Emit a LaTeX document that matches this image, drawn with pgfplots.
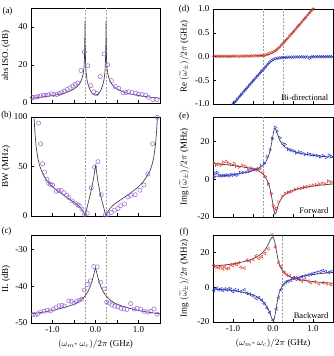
\documentclass[border=0pt]{standalone}
\usepackage{fontspec}
\setmainfont{Liberation Serif}
\usepackage{pgfplots}
\pgfplotsset{compat=1.18}
\definecolor{cPurple}{HTML}{9B5FD6}
\definecolor{cRed}{HTML}{E0342A}
\definecolor{cBlue}{HTML}{2A3CD8}
\definecolor{cCurve}{HTML}{3A3A3A}

\pgfplotsset{
  panel/.style={
    scale only axis,
    xmin=-1.5, xmax=1.5,
    axis line style={line width=0.5pt},
    tick align=inside, xtick pos=bottom, ytick pos=left,
    major tick length=3pt,
    tick style={line width=0.4pt, black},
    xtick={-1,-0.5,0,0.5,1}, xticklabels={},
    tick label style={font=\fontsize{9}{10}\selectfont},
    label style={font=\fontsize{9}{10}\selectfont},
  },
  leftcol/.style={panel, width=129pt,
    ylabel style={at={(axis description cs:-0.135,0.5)}, anchor=south}},
  rightcol/.style={panel, width=120pt,
    ylabel style={at={(axis description cs:-0.172,0.5)}, anchor=south}},
  meas/.style={only marks, mark=o, mark size=2.1pt, draw=cPurple, line width=0.5pt},
  fit/.style={cCurve, line width=0.65pt, no marks},
  ep/.style={gray!75, dashed, line width=0.5pt, no marks, dash pattern=on 2pt off 1.5pt},
}
\tikzset{tagnote/.style={font=\fontsize{8.5}{9}\selectfont, anchor=south east}}

\begin{document}
\begin{tikzpicture}

% (a) isolation
\begin{axis}[leftcol, at={(31pt,253pt)}, anchor=south west, height=95pt,
  ymin=0, ymax=50, ytick={0,20,40}, yticklabels={0,20,40},
  ylabel={abs ISO. (dB)}]
\addplot[ep] coordinates {(-0.245,0) (-0.245,50)};
\addplot[ep] coordinates {(0.245,0) (0.245,50)};
\addplot[meas] coordinates {
(-1.465,2.9) (-1.40,3.0) (-1.34,3.4) (-1.28,3.75) (-1.21,4.1) (-1.15,4.1)
(-1.09,4.3) (-1.03,4.8) (-0.97,4.5) (-0.90,4.5) (-0.84,5.0) (-0.78,5.5)
(-0.72,6.2) (-0.66,7.1) (-0.59,8.0) (-0.53,8.9) (-0.47,9.8) (-0.41,10.5)
(-0.34,17.1) (-0.26,26.9) (-0.18,19.6) (-0.11,9.1) (-0.04,5.9) (0.03,5.0)
(0.11,13.9) (0.20,25.8) (0.28,20.1) (0.37,11.8) (0.46,8.6) (0.54,7.7)
(0.64,5.4) (0.71,5.5) (0.77,5.9) (0.85,5.5) (0.93,5.2) (1.00,4.6)
(1.08,4.5) (1.17,4.1) (1.23,3.0) (1.33,1.8) (1.43,1.8)};
\addplot[fit] coordinates {
(-1.5,2.5) (-1.3,3.0) (-1.1,3.6) (-0.9,4.3) (-0.75,5.0) (-0.6,6.2) (-0.5,7.4)
(-0.42,8.8) (-0.36,10.5) (-0.32,12.5) (-0.29,15) (-0.27,18) (-0.258,23)
(-0.25,30) (-0.245,43) (-0.24,30) (-0.232,22) (-0.22,16.5) (-0.2,12.5)
(-0.17,9.5) (-0.13,7.0) (-0.09,5.4) (-0.05,4.5) (0,4.1) (0.05,4.5) (0.09,5.4)
(0.13,7.0) (0.17,9.5) (0.2,12.5) (0.22,16.5) (0.232,22) (0.24,30) (0.245,43)
(0.25,30) (0.258,23) (0.27,18) (0.29,15) (0.32,12.5) (0.36,10.5) (0.42,8.8)
(0.5,7.4) (0.6,6.2) (0.75,5.0) (0.9,4.3) (1.1,3.6) (1.3,3.0) (1.5,2.5)};
\end{axis}

% (b) bandwidth
\begin{axis}[leftcol, at={(31pt,140pt)}, anchor=south west, height=99pt,
  ymin=0, ymax=100, ytick={0,50,100}, yticklabels={0,50,100},
  ylabel={BW (MHz)}]
\addplot[ep] coordinates {(-0.245,0) (-0.245,100)};
\addplot[ep] coordinates {(0.245,0) (0.245,100)};
\addplot[meas] coordinates {
(-1.323,93.8) (-1.277,72.9) (-1.230,52.8) (-1.184,44.4) (-1.129,37.2)
(-1.090,33.0) (-1.044,31.9) (-0.998,31.3) (-0.912,25.0) (-0.858,25.7)
(-0.796,26.0) (-0.734,23.6) (-0.672,20.8) (-0.626,18.8) (-0.548,15.3)
(-0.470,13.2) (-0.408,11.1) (-0.378,10.4) (-0.316,6.9) (-0.254,1.7)
(-0.192,2.8) (-0.098,28.5) (-0.021,49.3) (0.057,54.9) (0.134,21.5)
(0.227,1.0) (0.289,1.7) (0.367,3.5) (0.444,5.9) (0.522,7.6) (0.584,10.4)
(0.677,12.2) (0.754,19.1) (0.816,20.8) (0.925,21.5) (1.033,26.0)
(1.126,31.3) (1.219,42.4) (1.327,72.9) (1.436,99.7)};
\addplot[fit] coordinates {
(-1.43,100) (-1.41,85) (-1.38,70) (-1.34,58) (-1.3,51) (-1.25,45) (-1.2,40.5)
(-1.1,34) (-1.0,29.5) (-0.9,26) (-0.8,22.8) (-0.7,19.8) (-0.6,16.8)
(-0.5,13.8) (-0.4,10.5) (-0.34,8) (-0.3,5.5) (-0.27,3) (-0.245,0.3)
(-0.23,2.5) (-0.2,8) (-0.16,15) (-0.12,22) (-0.08,30) (-0.04,39) (-0.01,48)
(0.005,51) (0.02,46) (0.06,34) (0.1,25) (0.14,17) (0.18,10.5) (0.215,4.5)
(0.245,0.3) (0.26,1.5) (0.29,4.5) (0.33,7.2) (0.4,10.5) (0.5,13.8) (0.6,16.8)
(0.7,19.8) (0.8,22.8) (0.9,26) (1.0,29.5) (1.1,34) (1.2,40.5) (1.26,45)
(1.31,51) (1.35,58) (1.39,70) (1.42,85) (1.44,100)};
\end{axis}

% (c) insertion loss
\begin{axis}[leftcol, at={(31pt,33pt)}, anchor=south west, height=88pt,
  ymin=-50, ymax=-26, ytick={-50,-40,-30}, yticklabels={-50,-40,-30},
  xticklabels={-1.0,,0.0,,1.0},
  ylabel={IL (dB)},
  xlabel={$(\omega_{m}$- $\omega_{c})/2\pi$ (GHz)}]
\addplot[ep] coordinates {(-0.245,-50) (-0.245,-26)};
\addplot[ep] coordinates {(0.245,-50) (0.245,-26)};
\addplot[meas] coordinates {
(-1.45,-47.6) (-1.40,-47.8) (-1.35,-47.5) (-1.28,-47.0) (-1.20,-46.8)
(-1.12,-46.5) (-1.05,-46.7) (-0.98,-46.2) (-0.92,-45.8) (-0.85,-45.3)
(-0.78,-45.2) (-0.72,-45.4) (-0.62,-44.0) (-0.56,-44.1) (-0.50,-44.6)
(-0.44,-44.1) (-0.38,-43.8) (-0.32,-43.5) (-0.26,-41.0) (-0.19,-39.5)
(-0.12,-38.5) (-0.04,-34.6) (0.04,-34.7) (0.12,-38.9) (0.20,-40.7)
(0.26,-44.3) (0.32,-44.6) (0.38,-45.0) (0.45,-45.4) (0.52,-45.6)
(0.59,-46.0) (0.66,-46.2) (0.73,-46.3) (0.82,-44.7) (0.90,-46.2)
(0.97,-46.0) (1.05,-46.2) (1.13,-46.8) (1.21,-47.0) (1.29,-46.8)
(1.36,-46.2) (1.43,-47.6)};
\addplot[fit] coordinates {
(-1.5,-47.5) (-1.25,-47.1) (-1.0,-46.6) (-0.8,-46.0) (-0.6,-45.3)
(-0.45,-44.6) (-0.35,-43.8) (-0.25,-42.7) (-0.18,-41.5) (-0.12,-40.0)
(-0.08,-38.6) (-0.04,-36.8) (-0.015,-35.6) (0,-35.1) (0.015,-35.6)
(0.04,-36.8) (0.08,-38.6) (0.12,-40.0) (0.18,-41.5) (0.25,-42.7)
(0.35,-43.8) (0.45,-44.6) (0.6,-45.3) (0.8,-46.0) (1.0,-46.6) (1.25,-47.1)
(1.5,-47.5)};
\end{axis}

% (d) real parts
\begin{axis}[rightcol, at={(213pt,252pt)}, anchor=south west, height=95pt,
  ymin=-1, ymax=1, ytick={-1,-0.5,0,0.5,1},
  yticklabels={-1.0,-0.5,0.0,0.5,1.0},
  ylabel={Re $(\widetilde{\omega}_{\pm})/2\pi$ (GHz)}]
\addplot[ep] coordinates {(-0.245,-1) (-0.245,1)};
\addplot[ep] coordinates {(0.245,-1) (0.245,1)};
\addplot[only marks, mark=o, mark size=1.4pt, draw=cRed, line width=0.4pt] coordinates {
(-1.48,0.005) (-1.43,0.003) (-1.38,0.006) (-1.33,0.004) (-1.28,0.008)
(-1.23,0.005) (-1.18,0.006) (-1.13,0.004) (-1.08,0.007) (-1.03,0.006)
(-0.98,0.008) (-0.93,0.005) (-0.88,0.010) (-0.83,0.007) (-0.78,0.009)
(-0.73,0.006) (-0.68,0.012) (-0.63,0.010) (-0.58,0.009) (-0.53,0.014)
(-0.48,0.011) (-0.43,0.016) (-0.38,0.013) (-0.33,0.018) (-0.28,0.020)
(-0.23,0.015) (-0.18,0.035) (-0.13,0.050) (-0.08,0.075) (-0.03,0.085)
(0.02,0.10) (0.07,0.13) (0.12,0.165) (0.17,0.20) (0.22,0.245) (0.27,0.29)
(0.32,0.34) (0.37,0.385) (0.42,0.435) (0.47,0.48) (0.52,0.53) (0.57,0.58)
(0.62,0.63) (0.67,0.675) (0.72,0.725) (0.77,0.775) (0.82,0.825)
(0.87,0.875) (0.92,0.925) (0.97,0.975) (1.01,1.0)};
\addplot[only marks, mark=o, mark size=1.4pt, draw=cBlue, line width=0.4pt] coordinates {
(-0.99,-0.99) (-0.94,-0.945) (-0.89,-0.895) (-0.84,-0.845) (-0.79,-0.795)
(-0.74,-0.745) (-0.69,-0.70) (-0.64,-0.65) (-0.59,-0.60) (-0.54,-0.555)
(-0.49,-0.505) (-0.44,-0.455) (-0.39,-0.41) (-0.34,-0.365) (-0.29,-0.31)
(-0.24,-0.27) (-0.19,-0.22) (-0.14,-0.17) (-0.09,-0.12) (-0.04,-0.085)
(0.01,-0.06) (0.06,-0.045) (0.11,-0.035) (0.16,-0.03) (0.21,-0.025)
(0.26,-0.02) (0.31,-0.02) (0.36,-0.015) (0.41,-0.012) (0.46,-0.015)
(0.51,-0.01) (0.56,-0.012) (0.61,-0.008) (0.66,-0.01) (0.71,-0.006)
(0.76,-0.01) (0.81,-0.01) (0.86,-0.008) (0.91,-0.04) (0.96,-0.01)
(1.01,-0.005) (1.06,-0.008) (1.11,-0.004) (1.16,-0.007) (1.21,-0.005)
(1.26,-0.004) (1.31,-0.006) (1.36,-0.003) (1.41,-0.005) (1.46,-0.004)};
\addplot[fit] coordinates {
(-1.5,0.0043) (-1.2,0.0053) (-1.0,0.0064) (-0.8,0.0079) (-0.6,0.0105)
(-0.5,0.0125) (-0.4,0.0154) (-0.3,0.0200) (-0.25,0.0234) (-0.2,0.0281)
(-0.15,0.0347) (-0.1,0.0443) (-0.05,0.0588) (0,0.08) (0.05,0.1088)
(0.1,0.1443) (0.15,0.1847) (0.2,0.2281) (0.25,0.2734) (0.3,0.32)
(0.4,0.4154) (0.5,0.5125) (0.6,0.6105) (0.8,0.8079) (1.0,1.0064)
(1.05,1.0561)};
\addplot[fit] coordinates {
(-1.05,-1.0561) (-1.0,-1.0064) (-0.8,-0.8079) (-0.6,-0.6105) (-0.5,-0.5125)
(-0.4,-0.4154) (-0.3,-0.32) (-0.25,-0.2734) (-0.2,-0.2281) (-0.15,-0.1847)
(-0.1,-0.1443) (-0.05,-0.1088) (0,-0.08) (0.05,-0.0588) (0.1,-0.0443)
(0.15,-0.0347) (0.2,-0.0281) (0.25,-0.0234) (0.3,-0.02) (0.4,-0.0154)
(0.5,-0.0125) (0.6,-0.0105) (0.8,-0.0079) (1.0,-0.0064) (1.2,-0.0053)
(1.5,-0.0043)};
\node[tagnote] at (axis description cs:0.99,0.0) {Bi-directional};
\end{axis}

% (e) imaginary parts, forward
\begin{axis}[rightcol, at={(213pt,139pt)}, anchor=south west, height=100pt,
  ymin=-20, ymax=33, ytick={-20,0,20}, yticklabels={-20,0,20},
  ylabel={Img $(\widetilde{\omega}_{\pm})/2\pi$ (MHz)}]
\addplot[ep] coordinates {(-0.24,-20) (-0.24,33)};
\addplot[only marks, mark=triangle, mark size=1.7pt, mark options={rotate=-90},
  draw=cBlue, line width=0.4pt] coordinates {
(-1.48,1.0) (-1.44,3.0) (-1.40,3.5) (-1.35,2.0) (-1.30,1.8) (-1.25,1.9)
(-1.20,2.0) (-1.15,2.2) (-1.10,1.8) (-1.05,2.5) (-1.00,2.2) (-0.95,2.6)
(-0.90,2.2) (-0.82,3.5) (-0.75,3.6) (-0.68,3.8) (-0.60,4.2) (-0.52,5.0)
(-0.45,5.2) (-0.38,5.5) (-0.30,7.2) (-0.22,8.5) (-0.15,12.0) (-0.08,15.5)
(-0.02,21.5) (0.05,27.5) (0.10,25.5) (0.17,22.0) (0.24,19.0) (0.30,18.5)
(0.38,16.0) (0.45,15.5) (0.52,15.0) (0.58,14.0) (0.65,14.5) (0.72,14.0)
(0.80,13.2) (0.88,13.5) (0.95,13.0) (1.02,12.8) (1.10,12.5) (1.18,12.0)
(1.25,12.5) (1.32,11.5) (1.40,12.8) (1.46,12.0)};
\addplot[only marks, mark=triangle, mark size=1.7pt, mark options={rotate=-90},
  draw=cRed, line width=0.4pt] coordinates {
(-1.48,8.5) (-1.42,7.5) (-1.36,8.0) (-1.30,7.5) (-1.25,9.0) (-1.18,9.5)
(-1.12,8.5) (-1.05,7.8) (-0.98,8.5) (-0.92,7.0) (-0.85,6.5) (-0.78,7.5)
(-0.70,6.8) (-0.62,5.5) (-0.55,6.0) (-0.48,5.2) (-0.40,5.0) (-0.33,5.5)
(-0.26,3.5) (-0.20,1.5) (-0.12,-2.5) (-0.05,-7.5) (0.00,-14.0) (0.04,-16.0)
(0.08,-15.5) (0.14,-12.0) (0.22,-9.0) (0.30,-7.5) (0.38,-7.0) (0.46,-6.5)
(0.55,-5.5) (0.62,-5.0) (0.70,-4.8) (0.78,-4.2) (0.85,-4.0) (0.92,-3.5)
(1.00,-3.2) (1.08,-3.0) (1.15,-2.5) (1.22,-2.0) (1.30,-2.5) (1.38,-1.0)
(1.45,-1.5)};
\addplot[fit] coordinates {
(-1.5,1.5) (-1.2,2.0) (-1.0,2.5) (-0.8,3.2) (-0.6,4.0) (-0.5,4.6) (-0.4,5.4)
(-0.3,6.6) (-0.24,7.6) (-0.18,9.2) (-0.12,11.8) (-0.08,14.5) (-0.04,18.5)
(0.0,23.5) (0.03,26.5) (0.05,27.0) (0.08,26.0) (0.12,23.5) (0.16,21.0)
(0.22,18.8) (0.3,17.0) (0.4,15.6) (0.5,14.8) (0.7,13.6) (0.9,12.9)
(1.1,12.4) (1.3,12.0) (1.5,11.6)};
\addplot[fit] coordinates {
(-1.5,8.5) (-1.2,7.8) (-1.0,7.3) (-0.8,6.7) (-0.6,6.0) (-0.5,5.5) (-0.4,4.8)
(-0.3,3.6) (-0.24,2.5) (-0.18,0.8) (-0.12,-1.8) (-0.08,-4.5) (-0.04,-8.5)
(0.0,-13.5) (0.03,-17.0) (0.05,-18.5) (0.08,-17.5) (0.12,-14.5)
(0.16,-12.0) (0.22,-9.8) (0.3,-8.0) (0.4,-6.6) (0.5,-5.8) (0.7,-4.6)
(0.9,-3.9) (1.1,-3.3) (1.3,-2.9) (1.5,-2.5)};
\node[tagnote] at (axis description cs:0.99,0.0) {Forward};
\end{axis}

% (f) imaginary parts, backward
\begin{axis}[rightcol, at={(213pt,34pt)}, anchor=south west, height=87pt,
  ymin=-20, ymax=30, ytick={-20,0,20}, yticklabels={-20,0,20},
  xticklabels={-1.0,,0.0,,1.0},
  ylabel={Img $(\widetilde{\omega}_{\pm})/2\pi$ (MHz)},
  xlabel={$(\omega_{m}$- $\omega_{c})/2\pi$ (GHz)}]
\addplot[ep] coordinates {(0.24,-20) (0.24,30)};
\addplot[only marks, mark=triangle, mark size=1.7pt, mark options={rotate=90},
  draw=cRed, line width=0.4pt] coordinates {
(-1.48,12.5) (-1.44,11.5) (-1.40,12.0) (-1.35,11.0) (-1.30,12.0) (-1.25,10.5)
(-1.20,11.8) (-1.15,10.5) (-1.10,11.0) (-1.05,13.0) (-1.00,12.5) (-0.95,13.5)
(-0.90,13.0) (-0.85,14.0) (-0.80,11.5) (-0.72,11.0) (-0.65,15.5) (-0.58,15.0)
(-0.50,16.0) (-0.42,18.0) (-0.35,16.5) (-0.28,17.5) (-0.20,19.5) (-0.12,22.0)
(-0.02,30.0) (0.06,23.0) (0.14,14.0) (0.20,12.0) (0.28,8.5) (0.35,7.0)
(0.42,6.5) (0.50,5.0) (0.58,5.5) (0.65,4.5) (0.72,3.5) (0.80,4.5) (0.88,3.5)
(0.95,2.5) (1.05,3.0) (1.15,2.0) (1.25,2.5) (1.35,2.0) (1.45,1.5)};
\addplot[only marks, mark=triangle, mark size=1.7pt, mark options={rotate=90},
  draw=cBlue, line width=0.4pt] coordinates {
(-1.48,-2.0) (-1.44,-1.0) (-1.40,-0.5) (-1.35,-1.5) (-1.30,-1.0) (-1.25,-2.0)
(-1.20,-1.0) (-1.15,-1.5) (-1.10,-0.8) (-1.05,-1.2) (-1.00,-2.5) (-0.95,-1.5)
(-0.88,-2.0) (-0.80,-2.5) (-0.72,-1.5) (-0.65,-3.5) (-0.58,-4.0) (-0.50,-5.0)
(-0.42,-6.5) (-0.35,-6.0) (-0.28,-7.5) (-0.22,-9.5) (-0.15,-12.0)
(-0.08,-14.5) (0.00,-19.0) (0.08,-12.5) (0.14,-6.0) (0.20,-1.5) (0.26,1.5)
(0.32,3.0) (0.38,3.5) (0.45,4.0) (0.52,5.5) (0.58,4.5) (0.65,5.0) (0.72,6.0)
(0.80,6.5) (0.88,7.0) (0.95,7.5) (1.02,8.0) (1.10,8.5) (1.18,9.0) (1.25,9.5)
(1.32,9.0) (1.40,8.5) (1.46,9.0)};
\addplot[fit] coordinates {
(-1.5,12.0) (-1.2,12.8) (-1.0,13.4) (-0.8,14.3) (-0.6,15.5) (-0.5,16.3)
(-0.4,17.5) (-0.3,19.0) (-0.2,21.5) (-0.12,24.5) (-0.06,27.5) (-0.02,28.8)
(0.01,28.5) (0.04,26.5) (0.08,21.5) (0.12,16.5) (0.16,13.0) (0.22,10.2)
(0.3,8.0) (0.4,6.3) (0.5,5.3) (0.7,4.2) (0.9,3.5) (1.1,3.0) (1.3,2.6)
(1.5,2.3)};
\addplot[fit] coordinates {
(-1.5,-1.0) (-1.2,-1.5) (-1.0,-2.0) (-0.8,-2.7) (-0.6,-3.7) (-0.5,-4.4)
(-0.4,-5.5) (-0.3,-7.0) (-0.2,-9.5) (-0.12,-12.5) (-0.06,-16.0)
(-0.02,-18.5) (0.01,-19.3) (0.04,-17.5) (0.08,-12.0) (0.12,-6.5)
(0.16,-2.8) (0.22,0.2) (0.3,2.2) (0.4,3.8) (0.5,4.8) (0.7,6.1) (0.9,7.0)
(1.1,7.6) (1.3,8.1) (1.5,8.5)};
\node[tagnote] at (axis description cs:0.99,0.0) {Backward};
\end{axis}

\begin{scope}[font=\fontsize{9}{10}\selectfont]
\node at (7.5pt,345pt) {(a)};
\node at (6.5pt,240.5pt) {(b)};
\node at (6.5pt,125pt) {(c)};
\node at (184pt,347pt) {(d)};
\node at (184pt,240pt) {(e)};
\node at (184pt,124pt) {(f)};
\end{scope}

\pgfresetboundingbox
\path[use as bounding box] (0pt,0pt) rectangle (334pt,356pt);
\end{tikzpicture}
\end{document}
